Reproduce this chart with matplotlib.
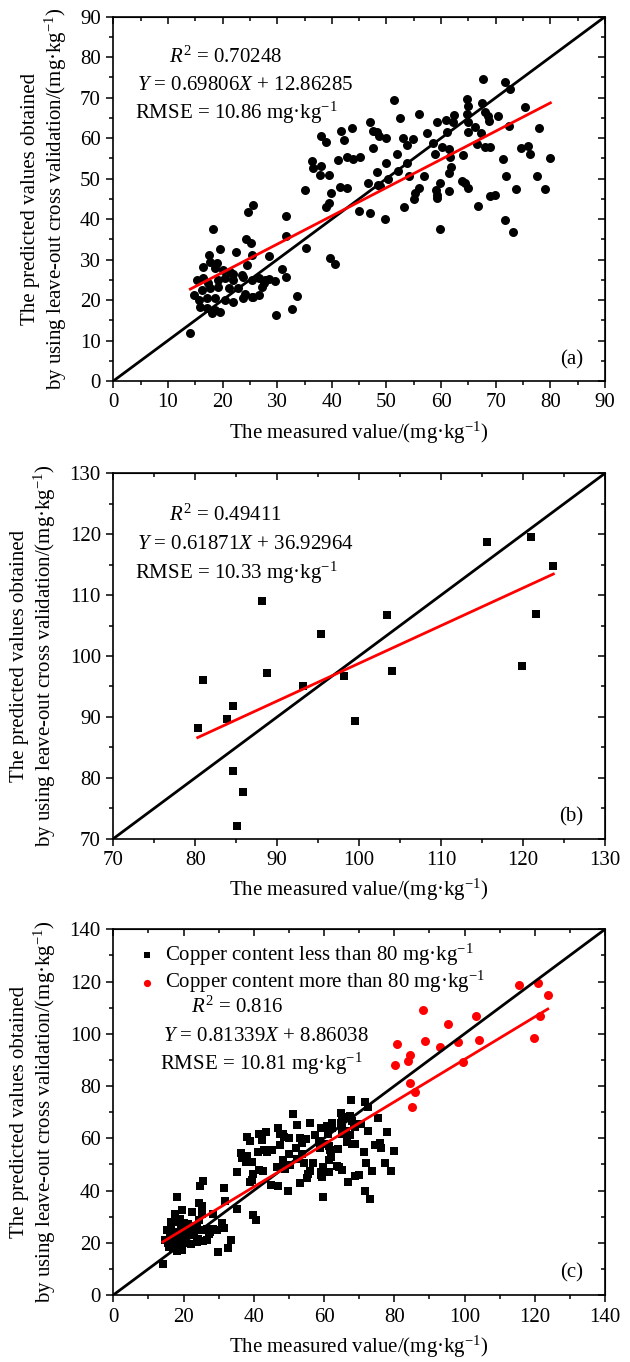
import matplotlib
matplotlib.use('Agg')
import numpy as np
import matplotlib.pyplot as plt
from matplotlib.ticker import MultipleLocator

plt.rcParams['font.family'] = ['Liberation Serif', 'DejaVu Serif']
plt.rcParams['mathtext.fontset'] = 'custom'
plt.rcParams['mathtext.rm'] = 'Liberation Serif'
plt.rcParams['mathtext.it'] = 'Liberation Serif:italic'
plt.rcParams['mathtext.bf'] = 'Liberation Serif:bold'

# samples with copper content below 80 mg/kg (panel a, black squares in c)
measured_low = [
    14.1, 25.5, 24.7, 18.2, 24.3, 25.2, 19.5, 22.5, 17.6, 25.3,
    16.5, 17.7, 18.9, 18.6, 20.1, 21.4, 22.0, 24.4, 23.5,
    15.3, 16.5, 17.4, 19.2, 20.4, 22.0, 23.8, 25.3, 26.6, 27.5,
    14.7, 16.2, 17.7, 19.2, 21.1, 22.9, 24.1, 25.6, 26.6,
    15.6, 17.1, 18.6, 20.4, 22.0, 23.8, 25.3,
    15.9, 17.1, 18.6, 18.0, 19.5,
    27.8, 28.5, 29.6, 27.3,
    35.1, 39.9, 41.5, 42.7, 39.4, 38.9, 31.6, 31.7, 35.3, 28.5, 39.7, 40.6,
    30.9, 31.6, 33.6, 32.8, 29.8,
    51.3, 56.0, 52.4, 46.9, 43.6, 41.6, 47.5, 48.3, 48.7, 49.9,
    38.1, 38.9, 42.2, 57.4, 53.1, 54.8, 53.8, 47.6, 51.9, 42.8,
    43.8, 45.1, 36.3, 36.6, 38.1, 41.2, 49.9, 53.7, 37.9, 39.4,
    48.2, 52.2, 50.2, 54.2, 56.8, 46.7, 48.5, 48.8, 56.0, 55.3,
    55.1, 53.2, 45.0, 46.9, 49.7,
    67.6, 71.7, 72.6, 64.7, 65.0, 67.4, 75.4, 62.4, 62.2, 64.7,
    65.0, 68.0, 68.6, 68.8, 70.5, 60.9, 59.2, 66.2, 72.5, 77.9,
    65.0, 61.0, 67.3, 58.6, 60.1, 58.9, 61.4, 61.6, 66.6, 68.0,
    68.9, 64.1, 74.6, 75.9, 76.3, 71.3, 80.0, 61.9, 61.5, 71.9,
    77.5, 59.8, 59.1, 59.2, 59.3, 63.8, 64.4, 65.0, 61.5, 73.8,
    79.0, 68.9, 69.9, 66.8, 71.7, 73.1, 59.8,
]
predicted_low = [
    11.8, 43.6, 41.8, 37.5, 35.1, 34.2, 32.5, 31.8, 31.1, 31.1,
    28.1, 29.5, 29.2, 27.8, 27.4, 27.0, 26.5, 28.6, 26.2,
    24.9, 25.4, 24.1, 24.9, 25.4, 24.9, 25.8, 24.9, 25.4, 24.1,
    21.2, 22.5, 22.9, 23.3, 22.9, 22.9, 21.6, 20.8, 21.2,
    20.0, 20.4, 20.4, 20.0, 19.6, 20.4, 20.8,
    18.4, 18.0, 17.5, 16.7, 17.1,
    24.9, 25.1, 24.8, 23.3,
    47.2, 46.5, 47.9, 47.6, 43.9, 43.1, 40.8, 35.8, 32.8, 30.9, 30.5, 28.8,
    27.6, 25.6, 21.0, 17.9, 16.3,
    69.4, 65.9, 64.9, 64.0, 62.4, 61.7, 61.7, 61.5, 60.5, 60.1,
    60.5, 59.1, 59.5, 61.2, 60.1, 59.7, 58.3, 57.5, 56.1, 55.4,
    54.9, 55.4, 54.3, 52.5, 53.1, 54.6, 53.8, 53.8, 50.9, 50.9,
    51.7, 51.9, 49.8, 50.6, 50.7, 49.0, 48.5, 48.1, 47.6, 46.4,
    44.9, 43.0, 42.0, 41.6, 40.0,
    74.5, 73.8, 72.1, 69.6, 68.0, 68.6, 67.6, 65.7, 64.1, 65.9,
    64.1, 66.5, 65.5, 64.3, 65.5, 64.6, 64.0, 62.8, 62.9, 62.4,
    61.6, 61.6, 61.2, 58.9, 57.8, 56.2, 57.2, 55.4, 58.5, 57.9,
    57.8, 55.8, 57.5, 58.0, 56.1, 54.8, 55.2, 52.8, 51.5, 50.7,
    50.7, 49.0, 47.2, 46.0, 45.1, 49.5, 49.0, 47.8, 47.0, 47.4,
    47.4, 45.7, 46.0, 43.2, 39.8, 36.9, 37.5,
]

# samples above 80 mg/kg (panel b, red circles in c)
measured_high = [115.6, 121.0, 123.7, 88.1, 103.4, 121.6, 95.3, 119.9, 104.0, 88.8,
                 98.1, 80.9, 93.1, 84.6, 83.9, 99.5, 80.3, 84.6, 85.8, 85.1]
predicted_high = [118.7, 119.6, 114.7, 109.1, 106.8, 106.9, 103.6, 98.4, 97.5, 97.2,
                  96.7, 96.0, 95.0, 91.8, 89.6, 89.3, 88.2, 81.1, 77.7, 72.1]

# fitted lines (slope, intercept) and stats shown on the panels
fit_a = (0.69806, 12.86285)
fit_b = (0.61871, 36.92964)
fit_c = (0.81339, 8.86038)
stats_a = ['$R^2$ = 0.70248', '$Y$ = 0.69806$X$ + 12.86285', 'RMSE = 10.86 mg·kg$^{-1}$']
stats_b = ['$R^2$ = 0.49411', '$Y$ = 0.61871$X$ + 36.92964', 'RMSE = 10.33 mg·kg$^{-1}$']
stats_c = ['$R^2$ = 0.816', '$Y$ = 0.81339$X$ + 8.86038', 'RMSE = 10.81 mg·kg$^{-1}$']

FS = 15
xlabel = 'The measured value/(mg·kg$^{-1}$)'
ylabel = 'The predicted values obtained\nby using leave-out cross validation/(mg·kg$^{-1}$)'


def setup(ax, lo, hi, major, minor):
    ax.set_xlim(lo, hi)
    ax.set_ylim(lo, hi)
    for axis in (ax.xaxis, ax.yaxis):
        axis.set_major_locator(MultipleLocator(major))
        axis.set_minor_locator(MultipleLocator(minor))
    ax.tick_params(which='major', direction='out', length=5, width=1.1, labelsize=FS, pad=4)
    ax.tick_params(which='minor', direction='out', length=3, width=1.1)
    for s in ax.spines.values():
        s.set_linewidth(1.2)
    top = ax.secondary_xaxis('top')
    right = ax.secondary_yaxis('right')
    for sec, axis in ((top, top.xaxis), (right, right.yaxis)):
        axis.set_major_locator(MultipleLocator(major))
        axis.set_minor_locator(MultipleLocator(minor))
        sec.tick_params(which='major', direction='in', length=5, width=1.1,
                        labeltop=False, labelright=False)
        sec.tick_params(which='minor', direction='in', length=3, width=1.1)
    ax.plot([lo, hi], [lo, hi], color='black', lw=2, zorder=3)
    ax.set_xlabel(xlabel, fontsize=FS, labelpad=5)
    ax.set_ylabel(ylabel, fontsize=FS, labelpad=8, linespacing=1.15)


def fit_line(ax, xs, fit, zorder=4):
    x0, x1 = min(xs), max(xs)
    xx = np.array([x0, x1])
    ax.plot(xx, fit[0] * xx + fit[1], color='red', lw=2, zorder=zorder)


def stats(ax, lines, pos):
    for txt, (x, y) in zip(lines, pos):
        ax.text(x, y, txt, transform=ax.transAxes, fontsize=FS, va='center', ha='left')


fig = plt.figure(figsize=(6.3, 13.62), dpi=100)
W = 630.0
H = 1362.0


def make_axes(top_px, bottom_px):
    return fig.add_axes([113.3 / W, (H - bottom_px) / H, 491.7 / W, (bottom_px - top_px) / H])


# (a)
ax = make_axes(16.7, 381.0)
setup(ax, 0, 90, 10, 5)
ax.scatter(measured_low, predicted_low, s=42, color='black', marker='o', lw=0, zorder=2)
fit_line(ax, measured_low, fit_a)
stats(ax, stats_a, [(0.114, 0.889), (0.048, 0.812), (0.044, 0.736)])
ax.text(0.932, 0.058, '(a)', transform=ax.transAxes, fontsize=FS, ha='center', va='center')

# (b)
ax = make_axes(473.3, 838.7)
setup(ax, 70, 130, 10, 5)
ax.scatter(measured_high, predicted_high, s=30, color='black', marker='s', lw=0, zorder=2)
fit_line(ax, measured_high, fit_b)
stats(ax, stats_b, [(0.114, 0.886), (0.049, 0.806), (0.044, 0.727)])
ax.text(0.932, 0.06, '(b)', transform=ax.transAxes, fontsize=FS, ha='center', va='center')

# (c)
ax = make_axes(929.3, 1295.0)
setup(ax, 0, 140, 20, 10)
ax.scatter(measured_low, predicted_low, s=30, color='black', marker='s', lw=0, zorder=2,
           label='Copper content less than 80 mg·kg$^{-1}$')
ax.scatter(measured_high, predicted_high, s=42, color='red', marker='o', lw=0, zorder=2,
           label='Copper content more than 80 mg·kg$^{-1}$')
fit_line(ax, measured_low + measured_high, fit_c)
ax.legend(loc='upper left', bbox_to_anchor=(0.02, 1.0), frameon=False, fontsize=FS,
          handletextpad=0.3, labelspacing=0.05, borderaxespad=0.2, handlelength=1.1,
          markerscale=0.8)
stats(ax, stats_c, [(0.159, 0.788), (0.102, 0.708), (0.094, 0.632)])
ax.text(0.932, 0.06, '(c)', transform=ax.transAxes, fontsize=FS, ha='center', va='center')

fig.savefig('out.png', dpi=100)
